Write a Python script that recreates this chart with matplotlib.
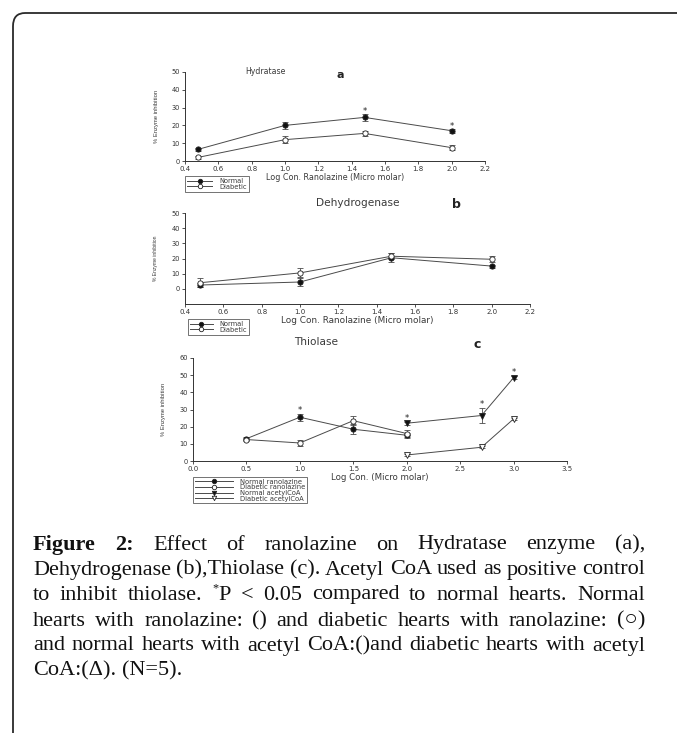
import matplotlib
matplotlib.use("Agg")
import matplotlib.pyplot as plt
from matplotlib.lines import Line2D
from matplotlib.patches import FancyBboxPatch
import numpy as np

# ---------------- data ----------------
a_x = [0.477, 1.0, 1.477, 2.0]
a_normal = [6.5, 20.0, 24.5, 17.0]
a_normal_err = [1.0, 2.0, 2.0, 1.0]
a_diab = [2.0, 12.0, 15.5, 7.5]
a_diab_err = [1.0, 2.0, 1.5, 1.5]
a_sig = [False, False, True, True]

b_x = [0.477, 1.0, 1.477, 2.0]
b_normal = [2.5, 4.5, 20.5, 15.0]
b_normal_err = [1.5, 2.5, 3.0, 1.0]
b_diab = [4.0, 10.5, 21.5, 19.5]
b_diab_err = [3.0, 3.0, 2.0, 2.0]

c_x_ran = [0.5, 1.0, 1.5, 2.0]
c_norm_ran = [13.0, 25.5, 18.5, 15.0]
c_norm_ran_err = [1.0, 2.0, 3.0, 1.5]
c_diab_ran = [12.5, 10.5, 23.5, 16.0]
c_diab_ran_err = [1.0, 1.5, 2.5, 2.0]
c_sig_ran = [False, True, False, False]
c_x_acoa = [2.0, 2.7, 3.0]
c_norm_acoa = [22.0, 26.5, 48.5]
c_norm_acoa_err = [1.0, 4.5, 1.0]
c_diab_acoa = [3.5, 8.0, 24.5]
c_diab_acoa_err = [0.5, 0.5, 0.5]
c_sig_acoa = [True, True, True]

ticks_ab = [0.4, 0.6, 0.8, 1.0, 1.2, 1.4, 1.6, 1.8, 2.0, 2.2]
ticks_c = [0.0, 0.5, 1.0, 1.5, 2.0, 2.5, 3.0, 3.5]

W, H = 677, 733
fig = plt.figure(figsize=(W / 100, H / 100), dpi=100)
SANS = ["DejaVu Sans"]
NARROW = ["Liberation Sans", "DejaVu Sans"]
SERIF = ["Liberation Serif", "DejaVu Serif", "DejaVu Sans"]
TC = "#3a3a3a"
LC = "#4a4a4a"


def rect(l, t, r, b):
    return [l / W, 1 - b / H, (r - l) / W, (b - t) / H]


def style_ax(ax, xt, yt):
    for s in ["top", "right"]:
        ax.spines[s].set_visible(False)
    for s in ["left", "bottom"]:
        ax.spines[s].set_linewidth(0.7)
        ax.spines[s].set_color("#333333")
    ax.set_xticks(xt)
    ax.set_yticks(yt)
    ax.set_xticklabels([f"{v:.1f}" for v in xt], fontsize=5.0, color=TC, family=SANS)
    ax.set_yticklabels([f"{v:d}" for v in yt], fontsize=4.8, color=TC, family=SANS)
    ax.tick_params(length=2, width=0.6, pad=1.5, colors="#333333")
    ax.patch.set_alpha(0)


def series(ax, x, y, e, marker, filled):
    ax.errorbar(x, y, yerr=e, color=LC, lw=0.7, elinewidth=0.6, capsize=2,
                capthick=0.6, marker=marker, ms=3.8, mew=0.6,
                mfc=("#111111" if filled else "white"), mec="#222222",
                zorder=3, clip_on=False)


def stars(ax, x, y, e, sig, off):
    for xi, yi, ei, s in zip(x, y, e, sig):
        if s:
            ax.text(xi, yi + ei + off, "*", ha="center", va="center",
                    fontsize=6, color="#222222", family=SANS)


# ---------------- panel a ----------------
axa = fig.add_axes(rect(185, 72, 485, 161))
axa.set_xlim(0.4, 2.2)
axa.set_ylim(0, 50)
style_ax(axa, ticks_ab, [0, 10, 20, 30, 40, 50])
series(axa, a_x, a_normal, a_normal_err, "o", True)
series(axa, a_x, a_diab, a_diab_err, "o", False)
stars(axa, a_x, a_normal, a_normal_err, a_sig, 1.5)
axa.set_xlabel("Log Con. Ranolazine (Micro molar)", fontsize=5.8, color=TC,
               family=SANS, labelpad=0.5)
axa.set_ylabel("% Enzyme inhibition", fontsize=4.2, color=TC, family=NARROW,
               labelpad=9)
fig.text(265 / W, 1 - 71 / H, "Hydratase", fontsize=5.6, color=TC,
         family=SANS, ha="center", va="center")
fig.text(340 / W, 1 - 75 / H, "a", fontsize=8, color="#222222",
         family=SANS, weight="bold", ha="center", va="center")

# ---------------- panel b ----------------
axb = fig.add_axes(rect(185, 213, 530, 304))
axb.set_xlim(0.4, 2.2)
axb.set_ylim(-10, 50)
style_ax(axb, ticks_ab, [0, 10, 20, 30, 40, 50])
series(axb, b_x, b_normal, b_normal_err, "o", True)
series(axb, b_x, b_diab, b_diab_err, "o", False)
axb.set_xlabel("Log Con. Ranolazine (Micro molar)", fontsize=6.4, color=TC,
               family=SANS, labelpad=0.5)
axb.set_ylabel("% Enzyme inhibition", fontsize=3.6, color=TC, family=NARROW,
               labelpad=10)
fig.text(358 / W, 1 - 203 / H, "Dehydrogenase", fontsize=7.6, color=TC,
         family=SANS, ha="center", va="center")
fig.text(456 / W, 1 - 204 / H, "b", fontsize=9, color="#222222",
         family=SANS, weight="bold", ha="center", va="center")

# ---------------- panel c ----------------
axc = fig.add_axes(rect(193, 358, 567, 461))
axc.set_xlim(0, 3.5)
axc.set_ylim(0, 60)
style_ax(axc, ticks_c, [0, 10, 20, 30, 40, 50, 60])
series(axc, c_x_ran, c_norm_ran, c_norm_ran_err, "o", True)
series(axc, c_x_ran, c_diab_ran, c_diab_ran_err, "o", False)
series(axc, c_x_acoa, c_norm_acoa, c_norm_acoa_err, "v", True)
series(axc, c_x_acoa, c_diab_acoa, c_diab_acoa_err, "v", False)
stars(axc, c_x_ran, c_norm_ran, c_norm_ran_err, c_sig_ran, 1.8)
stars(axc, c_x_acoa, c_norm_acoa, c_norm_acoa_err, c_sig_acoa, 1.8)
axc.set_xlabel("Log Con. (Micro molar)", fontsize=6.2, color=TC,
               family=SANS, labelpad=0.5)
axc.set_ylabel("% Enzyme inhibition", fontsize=4.2, color=TC, family=NARROW,
               labelpad=10)
fig.text(316 / W, 1 - 342 / H, "Thiolase", fontsize=7.6, color=TC,
         family=SANS, ha="center", va="center")
fig.text(477 / W, 1 - 345 / H, "c", fontsize=9, color="#222222",
         family=SANS, weight="bold", ha="center", va="center")


# ---------------- legends ----------------
def handle(marker, filled):
    return Line2D([], [], color=LC, lw=0.7, marker=marker, ms=3.2, mew=0.6,
                  mfc=("#111111" if filled else "white"), mec="#222222")


def legend(handles, labels, x, y, fs, hl, ls=-0.05, bp=0.3):
    lg = fig.legend(handles, labels, loc="upper left",
                    bbox_to_anchor=(x / W, 1 - y / H), fontsize=fs,
                    frameon=True, fancybox=False, borderpad=bp,
                    handlelength=hl, handletextpad=1.0, labelspacing=ls,
                    borderaxespad=0)
    lg.get_frame().set_edgecolor("#333333")
    lg.get_frame().set_linewidth(0.6)
    for t in lg.get_texts():
        t.set_color(TC)
        t.set_family(SANS)


legend([handle("o", True), handle("o", False)], ["Normal", "Diabetic"], 185, 176, 4.8, 3.8)
legend([handle("o", True), handle("o", False)], ["Normal", "Diabetic"], 188, 319, 4.8, 3.4)
legend([handle("o", True), handle("o", False), handle("v", True), handle("v", False)],
       ["Normal ranolazine", "Diabetic ranolazine", "Normal acetylCoA",
        "Diabetic acetylCoA"], 193, 477, 4.9, 5.6, ls=-0.05, bp=0.25)

# ---------------- frame ----------------
fr = FancyBboxPatch((13 / W, -0.05), 1.2, 1 - 13 / H + 0.05,
                    boxstyle="round,pad=0,rounding_size=0.018",
                    transform=fig.transFigure, fill=False, ec="#2a2a2a",
                    lw=1.3, clip_on=False)
fig.patches.append(fr)

# ---------------- caption (justified) ----------------
FS = 16.0
renderer = fig.canvas.get_renderer()
LEFT, RIGHT = 33, 645


def run(txt, bold=False, small=False, dy=0):
    return (txt, bold, small, dy)


lines = [
    [[run("Figure", True)], [run("2:", True)], [run("Effect")], [run("of")],
     [run("ranolazine")], [run("on")], [run("Hydratase")], [run("enzyme")], [run("(a),")]],
    [[run(w)] for w in "Dehydrogenase (b),Thiolase (c). Acetyl CoA used as positive control".split()],
    [[run("to")], [run("inhibit")], [run("thiolase.")], [run("*", small=True, dy=-7), run("P")],
     [run("<")], [run("0.05")], [run("compared")], [run("to")], [run("normal")],
     [run("hearts.")], [run("Normal")]],
    [[run(w)] for w in "hearts with ranolazine: () and diabetic hearts with ranolazine: (\u25cb)".split()],
    [[run(w)] for w in "and normal hearts with acetyl CoA:()and diabetic hearts with acetyl".split()],
    [[run(w)] for w in "CoA:(\u0394). (N=5).".split()],
]
ys = [545, 570, 595, 621, 646, 671]

for li, (words, y) in enumerate(zip(lines, ys)):
    objs = []
    widths = []
    for wd in words:
        wobjs = []
        ww = 0
        for (txt, bold, small, dy) in wd:
            t = fig.text(0, 1 - (y + dy) / H, txt, fontsize=(FS * 0.55 if small else FS),
                         family=SERIF, weight=("bold" if bold else "normal"),
                         color="#111111", ha="left", va="center")
            w = t.get_window_extent(renderer).width
            wobjs.append((t, ww, y + dy))
            ww += w
        objs.append(wobjs)
        widths.append(ww)
    justify = li < len(lines) - 1
    if justify:
        gap = (RIGHT - LEFT - sum(widths)) / (len(words) - 1)
    else:
        sp = fig.text(0, 0, "a a", fontsize=FS, family=SERIF)
        aa = fig.text(0, 0, "aa", fontsize=FS, family=SERIF)
        gap = sp.get_window_extent(renderer).width - aa.get_window_extent(renderer).width
        sp.remove()
        aa.remove()
    x = LEFT
    for wobjs, ww in zip(objs, widths):
        for (t, off, yy) in wobjs:
            t.set_position(((x + off) / W, 1 - yy / H))
        x += ww + gap

fig.savefig("out.png", dpi=100)
